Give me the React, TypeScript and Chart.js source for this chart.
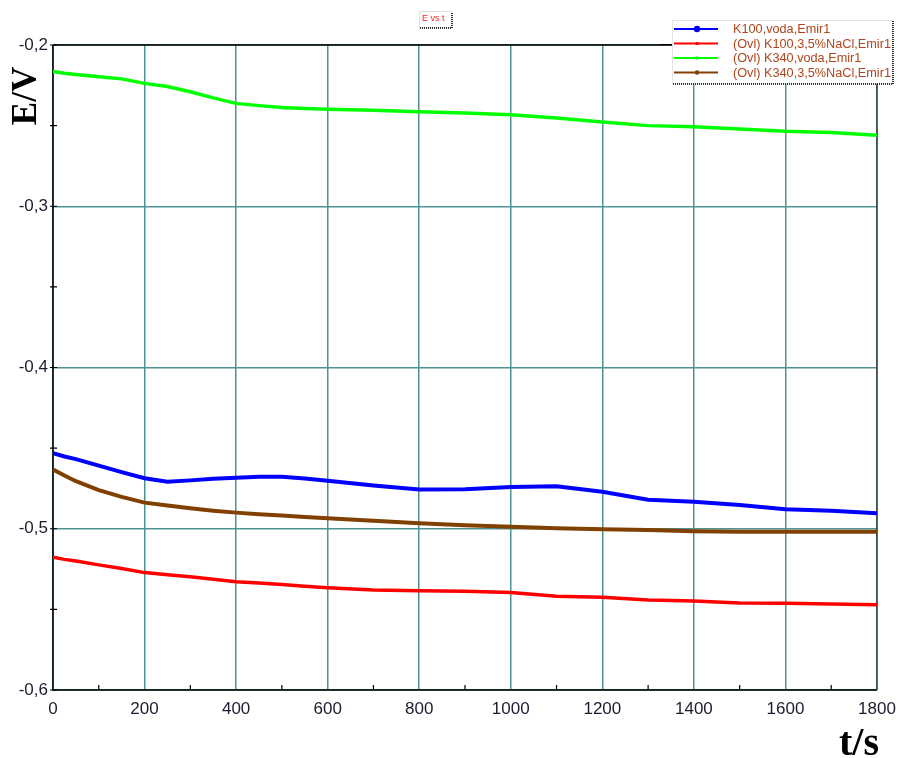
import React, { useEffect, useRef } from "react";
import { Chart, registerables } from "chart.js";

Chart.register(...registerables);

const times = [0, 25, 50, 100, 150, 200, 250, 300, 350, 400, 450, 500, 550, 600, 700, 800, 900, 1000, 1100, 1200, 1300, 1400, 1500, 1600, 1700, 1800];

const k100Voda = [-0.4532, -0.4552, -0.4568, -0.4609, -0.4649, -0.4687, -0.4708, -0.47, -0.469, -0.4683, -0.4677, -0.4678, -0.4688, -0.4702, -0.4732, -0.4756, -0.4755, -0.4741, -0.4737, -0.477, -0.482, -0.4832, -0.4853, -0.4879, -0.4888, -0.4904];

const k100NaCl = [-0.5177, -0.519, -0.52, -0.5224, -0.5247, -0.5272, -0.5285, -0.5297, -0.5313, -0.5328, -0.5337, -0.5345, -0.5356, -0.5366, -0.538, -0.5384, -0.5388, -0.5396, -0.5418, -0.5425, -0.5442, -0.5448, -0.546, -0.5462, -0.5466, -0.5471];

const k340Voda = [-0.2165, -0.2175, -0.2183, -0.2197, -0.221, -0.2238, -0.2257, -0.229, -0.2328, -0.2362, -0.2376, -0.2387, -0.2394, -0.2399, -0.2404, -0.2414, -0.2422, -0.2432, -0.2453, -0.2478, -0.25, -0.2507, -0.2521, -0.2535, -0.2542, -0.256];

const k340NaCl = [-0.4632, -0.467, -0.4705, -0.476, -0.4802, -0.4838, -0.4856, -0.4873, -0.4888, -0.49, -0.491, -0.4918, -0.4927, -0.4935, -0.495, -0.4966, -0.4979, -0.4987, -0.4997, -0.5003, -0.5008, -0.5015, -0.5018, -0.5018, -0.5018, -0.5018];

const seriesLabels = ["K100,voda,Emir1", "(Ovl) K100,3,5%NaCl,Emir1", "(Ovl) K340,voda,Emir1", "(Ovl) K340,3,5%NaCl,Emir1"];
const seriesColors = ["#0000ff", "#ff0000", "#00ff00", "#804000"];
const seriesValues = [k100Voda, k100NaCl, k340Voda, k340NaCl];
const seriesWidths = [4, 3.5, 3.5, 4];
const markerKinds = ["circle", "square", "square", "circle"];

const chartTitle = "E vs t";
const yTitle = "E/V";
const xTitle = "t/s";
const xMinorTicks = [100, 300, 500, 700, 900, 1100, 1300, 1500, 1700];
const yMinorTicks = [-0.55, -0.45, -0.35, -0.25];
const yMajorTicks = [-0.6, -0.5, -0.4, -0.3, -0.2];

const TEAL = "#4e9294";
const LABEL_COLOR = "#1c1c30";
const LEGEND_TEXT = "#b0451c";

const decorPlugin = {
  id: "decor",
  beforeDatasetsDraw(chart: any) {
    const { ctx, chartArea } = chart;
    const { left, right, top, bottom } = chartArea;
    const xs = chart.scales.x;
    const ys = chart.scales.y;
    ctx.save();
    ctx.lineWidth = 1.5;
    ctx.strokeStyle = "#000";
    ctx.beginPath();
    ctx.moveTo(left, top);
    ctx.lineTo(left, bottom);
    ctx.lineTo(right, bottom);
    ctx.moveTo(left, top);
    ctx.lineTo(right, top);
    ctx.stroke();
    ctx.strokeStyle = "#404040";
    ctx.beginPath();
    ctx.moveTo(right, top);
    ctx.lineTo(right, bottom);
    ctx.stroke();
    ctx.strokeStyle = "#000";
    ctx.lineWidth = 1.2;
    ctx.beginPath();
    for (const v of xMinorTicks) {
      const px = xs.getPixelForValue(v);
      ctx.moveTo(px, bottom);
      ctx.lineTo(px, bottom - 5);
    }
    for (const v of yMinorTicks.concat(yMajorTicks)) {
      const py = ys.getPixelForValue(v);
      ctx.moveTo(left - 3, py);
      ctx.lineTo(left + 4, py);
    }
    ctx.stroke();
    ctx.restore();
  },
  afterDraw(chart: any) {
    const { ctx } = chart;
    ctx.save();
    ctx.fillStyle = "#000";
    ctx.font = "bold 35px 'Liberation Serif', 'Times New Roman', serif";
    ctx.textAlign = "center";
    ctx.textBaseline = "middle";
    ctx.translate(27, 96);
    ctx.rotate(-Math.PI / 2);
    ctx.fillText(yTitle, 0, 0);
    ctx.restore();

    ctx.save();
    ctx.fillStyle = "#000";
    ctx.font = "bold 40px 'Liberation Serif', 'Times New Roman', serif";
    ctx.textAlign = "right";
    ctx.textBaseline = "alphabetic";
    ctx.fillText(xTitle, 879, 755);
    ctx.restore();

    ctx.save();
    ctx.fillStyle = "#fff";
    ctx.fillRect(419, 11, 33, 17);
    ctx.strokeStyle = "#e0e0e0";
    ctx.lineWidth = 1;
    ctx.strokeRect(419.5, 11.5, 32, 16);
    ctx.strokeStyle = "#333";
    ctx.lineWidth = 2;
    ctx.setLineDash([1, 1]);
    ctx.beginPath();
    ctx.moveTo(420, 28);
    ctx.lineTo(452, 28);
    ctx.lineTo(452, 12);
    ctx.stroke();
    ctx.setLineDash([]);
    ctx.fillStyle = "#ff2020";
    ctx.font = "9px 'Liberation Sans', Arial, sans-serif";
    ctx.textAlign = "left";
    ctx.textBaseline = "middle";
    ctx.fillText(chartTitle, 422, 19);
    ctx.restore();

    ctx.save();
    const lx = 672, ly = 20, lw = 221, lh = 64;
    ctx.fillStyle = "#fff";
    ctx.fillRect(lx, ly, lw, lh);
    ctx.strokeStyle = "#e4e4e4";
    ctx.lineWidth = 1;
    ctx.strokeRect(lx + 0.5, ly + 0.5, lw - 1, lh - 1);
    ctx.strokeStyle = "#333";
    ctx.lineWidth = 2;
    ctx.setLineDash([1, 1]);
    ctx.beginPath();
    ctx.moveTo(lx + 1, ly + lh);
    ctx.lineTo(lx + lw, ly + lh);
    ctx.lineTo(lx + lw, ly + 1);
    ctx.stroke();
    ctx.setLineDash([]);
    ctx.strokeStyle = "#000";
    ctx.lineWidth = 1;
    ctx.beginPath();
    ctx.moveTo(660, 44.5);
    ctx.lineTo(672, 44.5);
    ctx.stroke();
    ctx.font = "12.7px 'Liberation Sans', Arial, sans-serif";
    ctx.textAlign = "left";
    ctx.textBaseline = "middle";
    seriesLabels.forEach((label, i) => {
      const y = 29 + i * 14.5;
      ctx.strokeStyle = seriesColors[i];
      ctx.lineWidth = 2;
      ctx.beginPath();
      ctx.moveTo(674, y);
      ctx.lineTo(718, y);
      ctx.stroke();
      ctx.fillStyle = seriesColors[i];
      if (markerKinds[i] === "circle") {
        ctx.beginPath();
        ctx.arc(697, y, i === 0 ? 3.2 : 2.2, 0, Math.PI * 2);
        ctx.fill();
      } else {
        ctx.fillRect(695.5, y - 1.5, 3, 3);
      }
      ctx.fillStyle = LEGEND_TEXT;
      ctx.fillText(label, 733, y + 0.5);
    });
    ctx.restore();
  },
};

export default function App() {
  const canvasRef = useRef<HTMLCanvasElement | null>(null);

  useEffect(() => {
    const canvas = canvasRef.current;
    if (!canvas) return;
    const chart = new Chart(canvas, {
      type: "line",
      data: {
        labels: times,
        datasets: seriesValues.map((vals, i) => ({
          label: seriesLabels[i],
          data: vals.map((v, j) => ({ x: times[j], y: v })),
          borderColor: seriesColors[i],
          backgroundColor: seriesColors[i],
          borderWidth: seriesWidths[i],
          pointRadius: 0,
          tension: 0,
          fill: false,
        })),
      },
      options: {
        animation: false,
        responsive: false,
        maintainAspectRatio: false,
        layout: { padding: { left: 0, right: 20, top: 45, bottom: 0 } },
        plugins: {
          legend: { display: false },
          title: { display: false },
          tooltip: { enabled: false },
        },
        scales: {
          x: {
            type: "linear",
            min: 0,
            max: 1800,
            ticks: {
              stepSize: 200,
              padding: 9,
              maxRotation: 0,
              color: LABEL_COLOR,
              font: { family: "'Liberation Sans', Arial, sans-serif", size: 17 },
              callback: (v: any) => String(v),
            },
            grid: { color: TEAL, lineWidth: 1.5, drawTicks: false },
            border: { display: false },
            afterFit: (s: any) => {
              s.height = 68;
              s.paddingLeft = 0;
              s.paddingRight = 0;
            },
          },
          y: {
            type: "linear",
            min: -0.6,
            max: -0.2,
            ticks: {
              stepSize: 0.1,
              padding: 5,
              color: LABEL_COLOR,
              font: { family: "'Liberation Sans', Arial, sans-serif", size: 17 },
              callback: (v: any) => Number(v).toFixed(1).replace(".", ","),
            },
            grid: { color: TEAL, lineWidth: 1.5, drawTicks: false },
            border: { display: false },
            afterFit: (s: any) => {
              s.width = 53;
              s.paddingTop = 0;
              s.paddingBottom = 0;
            },
          },
        },
      },
      plugins: [decorPlugin],
    });
    return () => chart.destroy();
  }, []);

  return (
    <div style={{ position: "absolute", left: 0, top: 0, width: 897, height: 758, background: "#fff" }}>
      <canvas ref={canvasRef} width={897} height={758} style={{ width: 897, height: 758, display: "block" }} />
    </div>
  );
}
